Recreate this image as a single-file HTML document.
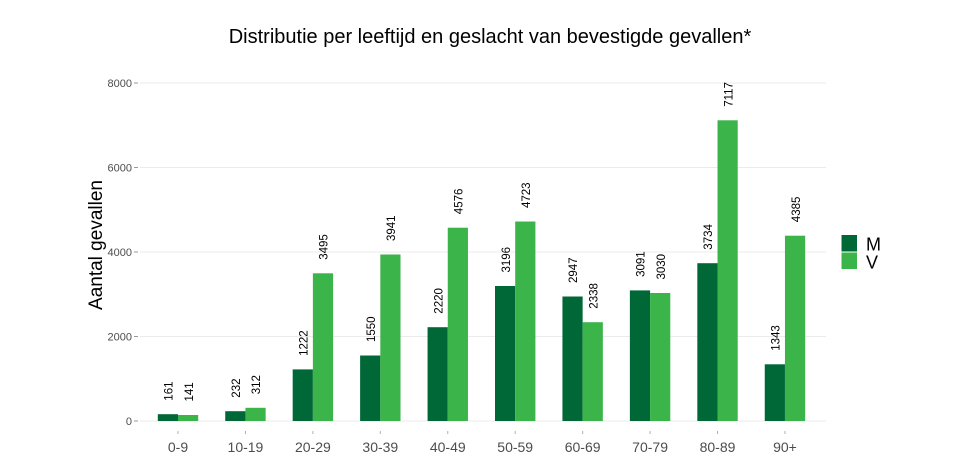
<!DOCTYPE html>
<html>
<head>
<meta charset="utf-8">
<style>
  html,body{margin:0;padding:0;background:#fff;}
  svg{display:block;}
  text{font-family:"Liberation Sans", Arial, sans-serif;}
</style>
</head>
<body>
<svg width="953" height="462" viewBox="0 0 953 462" xmlns="http://www.w3.org/2000/svg">
  <rect width="953" height="462" fill="#fff"/>
  <!-- title -->
  <text x="490" y="43" font-size="20" text-anchor="middle" fill="#000">Distributie per leeftijd en geslacht van bevestigde gevallen*</text>

  <!-- gridlines -->
  <g stroke="#ebebeb" stroke-width="1">
    <line x1="140" x2="826" y1="421" y2="421"/>
    <line x1="140" x2="826" y1="336.5" y2="336.5"/>
    <line x1="140" x2="826" y1="252" y2="252"/>
    <line x1="140" x2="826" y1="167.5" y2="167.5"/>
    <line x1="140" x2="826" y1="83" y2="83"/>
  </g>
  <!-- y ticks -->
  <g stroke="#9a9a9a" stroke-width="1">
    <line x1="134" x2="138" y1="421" y2="421"/>
    <line x1="134" x2="138" y1="336.5" y2="336.5"/>
    <line x1="134" x2="138" y1="252" y2="252"/>
    <line x1="134" x2="138" y1="167.5" y2="167.5"/>
    <line x1="134" x2="138" y1="83" y2="83"/>
  </g>
  <g font-size="11" fill="#4d4d4d" text-anchor="end">
    <text x="132" y="425">0</text>
    <text x="132" y="340.5">2000</text>
    <text x="132" y="256">4000</text>
    <text x="132" y="171.5">6000</text>
    <text x="132" y="87">8000</text>
  </g>

  <!-- y title -->
  <text transform="translate(102,245) rotate(-90)" font-size="19" text-anchor="middle" fill="#000">Aantal gevallen</text>

  <g>
    <rect x="157.8" y="414.2" width="20.2" height="6.8" fill="#006837"/>
    <rect x="178" y="415.0" width="20.2" height="6.0" fill="#3bb44a"/>
    <rect x="225.24" y="411.2" width="20.2" height="9.8" fill="#006837"/>
    <rect x="245.44" y="407.8" width="20.2" height="13.2" fill="#3bb44a"/>
    <rect x="292.68" y="369.4" width="20.2" height="51.6" fill="#006837"/>
    <rect x="312.88" y="273.3" width="20.2" height="147.7" fill="#3bb44a"/>
    <rect x="360.12" y="355.5" width="20.2" height="65.5" fill="#006837"/>
    <rect x="380.32" y="254.5" width="20.2" height="166.5" fill="#3bb44a"/>
    <rect x="427.56" y="327.2" width="20.2" height="93.8" fill="#006837"/>
    <rect x="447.76" y="227.7" width="20.2" height="193.3" fill="#3bb44a"/>
    <rect x="495.0" y="286.0" width="20.2" height="135.0" fill="#006837"/>
    <rect x="515.2" y="221.5" width="20.2" height="199.5" fill="#3bb44a"/>
    <rect x="562.44" y="296.5" width="20.2" height="124.5" fill="#006837"/>
    <rect x="582.64" y="322.2" width="20.2" height="98.8" fill="#3bb44a"/>
    <rect x="629.88" y="290.4" width="20.2" height="130.6" fill="#006837"/>
    <rect x="650.08" y="293.0" width="20.2" height="128.0" fill="#3bb44a"/>
    <rect x="697.32" y="263.2" width="20.2" height="157.8" fill="#006837"/>
    <rect x="717.52" y="120.3" width="20.2" height="300.7" fill="#3bb44a"/>
    <rect x="764.76" y="364.3" width="20.2" height="56.7" fill="#006837"/>
    <rect x="784.96" y="235.7" width="20.2" height="185.3" fill="#3bb44a"/>
  </g>

  <!-- value labels -->
  <g font-size="11.5" fill="#000">
    <text transform="translate(172.6,400.7) rotate(-90)">161</text>
    <text transform="translate(192.8,401.5) rotate(-90)">141</text>
    <text transform="translate(240.0,397.7) rotate(-90)">232</text>
    <text transform="translate(260.2,394.3) rotate(-90)">312</text>
    <text transform="translate(307.5,355.9) rotate(-90)">1222</text>
    <text transform="translate(327.7,259.8) rotate(-90)">3495</text>
    <text transform="translate(374.9,342.0) rotate(-90)">1550</text>
    <text transform="translate(395.1,241.0) rotate(-90)">3941</text>
    <text transform="translate(442.4,313.7) rotate(-90)">2220</text>
    <text transform="translate(462.6,214.2) rotate(-90)">4576</text>
    <text transform="translate(509.8,272.5) rotate(-90)">3196</text>
    <text transform="translate(530.0,208.0) rotate(-90)">4723</text>
    <text transform="translate(577.2,283.0) rotate(-90)">2947</text>
    <text transform="translate(597.4,308.7) rotate(-90)">2338</text>
    <text transform="translate(644.7,276.9) rotate(-90)">3091</text>
    <text transform="translate(664.9,279.5) rotate(-90)">3030</text>
    <text transform="translate(712.1,249.7) rotate(-90)">3734</text>
    <text transform="translate(732.3,106.8) rotate(-90)">7117</text>
    <text transform="translate(779.6,350.8) rotate(-90)">1343</text>
    <text transform="translate(799.8,222.2) rotate(-90)">4385</text>
  </g>

  <!-- x ticks -->
  <g stroke="#b0b0b0" stroke-width="1">
    <line x1="178" x2="178" y1="431" y2="434"/>
    <line x1="245.44" x2="245.44" y1="431" y2="434"/>
    <line x1="312.88" x2="312.88" y1="431" y2="434"/>
    <line x1="380.32" x2="380.32" y1="431" y2="434"/>
    <line x1="447.76" x2="447.76" y1="431" y2="434"/>
    <line x1="515.2" x2="515.2" y1="431" y2="434"/>
    <line x1="582.64" x2="582.64" y1="431" y2="434"/>
    <line x1="650.08" x2="650.08" y1="431" y2="434"/>
    <line x1="717.52" x2="717.52" y1="431" y2="434"/>
    <line x1="784.96" x2="784.96" y1="431" y2="434"/>
  </g>
  <g font-size="14" fill="#4d4d4d" text-anchor="middle">
    <text x="178" y="452">0-9</text>
    <text x="245.44" y="452">10-19</text>
    <text x="312.88" y="452">20-29</text>
    <text x="380.32" y="452">30-39</text>
    <text x="447.76" y="452">40-49</text>
    <text x="515.2" y="452">50-59</text>
    <text x="582.64" y="452">60-69</text>
    <text x="650.08" y="452">70-79</text>
    <text x="717.52" y="452">80-89</text>
    <text x="784.96" y="452">90+</text>
  </g>

  <!-- legend -->
  <rect x="841.5" y="235" width="15.5" height="16.5" fill="#006837"/>
  <rect x="841.5" y="252.5" width="15.5" height="16.5" fill="#3bb44a"/>
  <g font-size="18" fill="#000">
    <text x="866" y="250.5">M</text>
    <text x="866" y="268.5">V</text>
  </g>
</svg>
</body>
</html>
